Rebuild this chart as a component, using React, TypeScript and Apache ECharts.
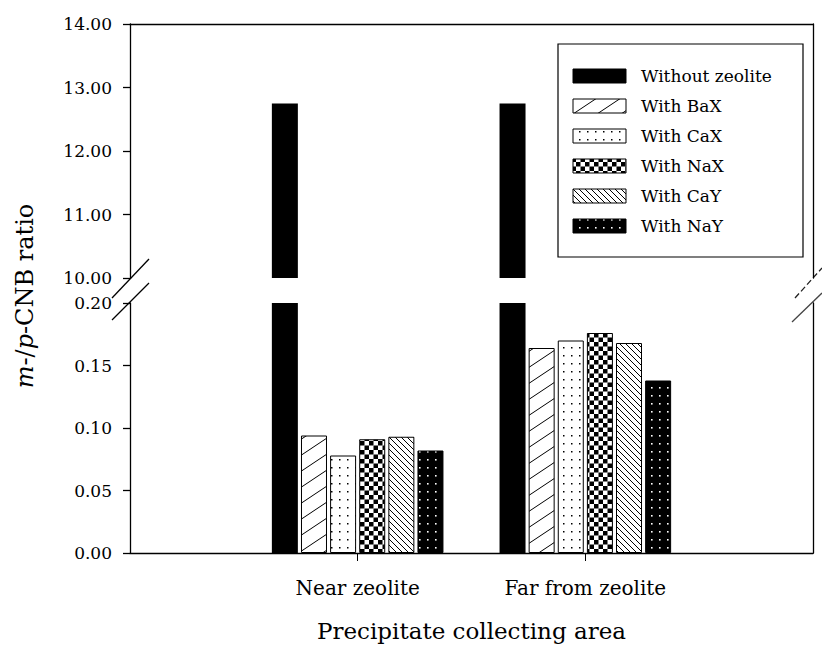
import { useEffect, useRef } from 'react';
import * as echarts from 'echarts';

// ---------- data ----------
const categories = ['', 'Near zeolite', 'Far from zeolite', ''];
const seriesNames = ['Without zeolite', 'With BaX', 'With CaX', 'With NaX', 'With CaY', 'With NaY'];
const withoutZeolite = ['-', 12.75, 12.75, '-'];
const withBaX = ['-', 0.094, 0.164, '-'];
const withCaX = ['-', 0.078, 0.170, '-'];
const withNaX = ['-', 0.091, 0.176, '-'];
const withCaY = ['-', 0.093, 0.168, '-'];
const withNaY = ['-', 0.082, 0.138, '-'];
const upperAxis = { min: 10, max: 14, interval: 1 };
const lowerAxis = { min: 0, max: 0.2, interval: 0.05 };
const xTitle = 'Precipitate collecting area';
const yTitle = '{i|m}-/{i|p}-CNB ratio';

const seriesValues = [withoutZeolite, withBaX, withCaX, withNaX, withCaY, withNaY];
const patternKinds = ['solid', 'slash', 'dots', 'checker', 'backslash', 'darkdots'];

const SERIF = '"DejaVu Serif", "Liberation Serif", serif';

function makePattern(kind: string): any {
  if (kind === 'solid') return '#000';
  const c = document.createElement('canvas');
  let w = 8, h = 8;
  if (kind === 'slash') { w = 24; h = 16; }
  if (kind === 'checker') { w = 9; h = 9; }
  if (kind === 'backslash') { w = 6; h = 6; }
  c.width = w; c.height = h;
  const ctx = c.getContext('2d')!;
  ctx.fillStyle = kind === 'darkdots' ? '#000' : '#fff';
  ctx.fillRect(0, 0, w, h);
  ctx.strokeStyle = '#000';
  ctx.fillStyle = '#000';
  ctx.lineWidth = 1;
  if (kind === 'slash') {
    for (let k = -1; k <= 1; k++) {
      ctx.beginPath();
      ctx.moveTo(-2, 16 + 16 * k + 4 / 3);
      ctx.lineTo(26, 16 * k - 4 / 3);
      ctx.stroke();
    }
  } else if (kind === 'backslash') {
    for (let k = -1; k <= 1; k++) {
      ctx.beginPath();
      ctx.moveTo(-1, -1 + 6 * k);
      ctx.lineTo(7, 7 + 6 * k);
      ctx.stroke();
    }
  } else if (kind === 'dots') {
    ctx.fillRect(3, 3, 1.5, 1.5);
  } else if (kind === 'checker') {
    ctx.fillRect(0, 0, 4.5, 4.5);
    ctx.fillRect(4.5, 4.5, 4.5, 4.5);
  } else if (kind === 'darkdots') {
    ctx.fillStyle = '#fff';
    ctx.fillRect(3, 3, 1.6, 1.6);
  }
  return { image: c, repeat: 'repeat', imageWidth: w, imageHeight: h };
}

export default function App() {
  const ref = useRef<HTMLDivElement>(null);
  useEffect(() => {
    if (!ref.current) return;
    const chart = echarts.init(ref.current, null, { renderer: 'svg' });
    const patterns = patternKinds.map(makePattern);

    const legendTop = 76;
    const legendStep = 30;
    const legendItems: any[] = [
      {
        type: 'rect',
        shape: { x: 558, y: 44, width: 245, height: 213 },
        style: { fill: '#fff', stroke: '#000', lineWidth: 1.2 },
      },
    ];
    seriesNames.forEach((name, i) => {
      const cy = legendTop + i * legendStep;
      legendItems.push({
        type: 'rect',
        shape: { x: 573, y: cy - 7, width: 53, height: 14 },
        style: { fill: patterns[i], stroke: '#000', lineWidth: 1 },
      });
      legendItems.push({
        type: 'text',
        x: 641,
        y: cy,
        style: {
          text: name,
          fontFamily: SERIF,
          fontSize: 17,
          fill: '#000',
          align: 'left',
          verticalAlign: 'middle',
        },
      });
    });

    const breakMarks: any[] = [
      { type: 'line', shape: { x1: 112, y1: 298, x2: 149, y2: 259 }, style: { stroke: '#000', lineWidth: 1.3 } },
      { type: 'line', shape: { x1: 112, y1: 320, x2: 149, y2: 283 }, style: { stroke: '#000', lineWidth: 1.3 } },
      { type: 'line', shape: { x1: 795, y1: 298, x2: 822, y2: 268 }, style: { stroke: '#222', lineWidth: 1.3, lineDash: [6, 3] } },
      { type: 'line', shape: { x1: 792, y1: 322, x2: 822, y2: 293 }, style: { stroke: '#444', lineWidth: 1.3 } },
    ];

    const series: any[] = [];
    seriesNames.forEach((name, i) => {
      const common = {
        type: 'bar',
        name,
        barWidth: 26,
        barGap: '12%',
        silent: true,
        itemStyle: {
          color: patterns[i],
          borderColor: '#000',
          borderWidth: i === 0 ? 0 : 1,
        },
      };
      series.push({
        ...common,
        xAxisIndex: 0,
        yAxisIndex: 0,
        data: i === 0 ? seriesValues[i] : categories.map(() => '-'),
      });
      series.push({
        ...common,
        xAxisIndex: 1,
        yAxisIndex: 2,
        data: seriesValues[i],
      });
    });

    const axisLineStyle = { color: '#000', width: 1.3 };
    const yLabel = {
      fontFamily: SERIF,
      fontSize: 17,
      color: '#000',
      margin: 18,
      formatter: (v: number) => v.toFixed(2),
    };

    chart.setOption({
      animation: false,
      backgroundColor: '#fff',
      grid: [
        { left: 130, right: 9, top: 24, height: 254 },
        { left: 130, right: 9, top: 303, height: 250 },
      ],
      xAxis: [
        {
          type: 'category',
          gridIndex: 0,
          position: 'top',
          data: categories,
          boundaryGap: false,
          axisLine: { show: true, onZero: false, lineStyle: axisLineStyle },
          axisTick: { show: false },
          axisLabel: { show: false },
          splitLine: { show: false },
        },
        {
          type: 'category',
          gridIndex: 1,
          position: 'bottom',
          data: categories,
          boundaryGap: false,
          axisLine: { show: true, onZero: false, lineStyle: axisLineStyle },
          axisTick: {
            show: true,
            length: 8,
            interval: (idx: number) => idx === 1 || idx === 2,
            lineStyle: { color: '#000', width: 1 },
          },
          axisLabel: {
            interval: (idx: number) => idx === 1 || idx === 2,
            fontFamily: SERIF,
            fontSize: 20,
            color: '#000',
            margin: 25,
          },
          splitLine: { show: false },
          name: xTitle,
          nameLocation: 'middle',
          nameGap: 66,
          nameTextStyle: { fontFamily: SERIF, fontSize: 23, color: '#000' },
        },
      ],
      yAxis: [
        {
          type: 'value',
          gridIndex: 0,
          position: 'left',
          min: upperAxis.min,
          max: upperAxis.max,
          interval: upperAxis.interval,
          axisLine: { show: true, lineStyle: axisLineStyle },
          axisTick: { show: true, length: 7, lineStyle: { color: '#000', width: 1.3 } },
          axisLabel: yLabel,
          splitLine: { show: false },
        },
        {
          type: 'value',
          gridIndex: 0,
          position: 'right',
          min: upperAxis.min,
          max: upperAxis.max,
          interval: upperAxis.interval,
          axisLine: { show: true, lineStyle: axisLineStyle },
          axisTick: { show: false },
          axisLabel: { show: false },
          splitLine: { show: false },
        },
        {
          type: 'value',
          gridIndex: 1,
          position: 'left',
          min: lowerAxis.min,
          max: lowerAxis.max,
          interval: lowerAxis.interval,
          axisLine: { show: true, lineStyle: axisLineStyle },
          axisTick: { show: true, length: 7, lineStyle: { color: '#000', width: 1.3 } },
          axisLabel: yLabel,
          splitLine: { show: false },
        },
        {
          type: 'value',
          gridIndex: 1,
          position: 'right',
          min: lowerAxis.min,
          max: lowerAxis.max,
          interval: lowerAxis.interval,
          axisLine: { show: true, lineStyle: axisLineStyle },
          axisTick: { show: false },
          axisLabel: { show: false },
          splitLine: { show: false },
        },
      ],
      series,
      graphic: [
        ...breakMarks,
        ...legendItems,
        {
          type: 'text',
          x: 25,
          y: 296,
          rotation: Math.PI / 2,
          style: {
            text: yTitle,
            fontFamily: SERIF,
            fontSize: 24,
            fill: '#000',
            align: 'center',
            verticalAlign: 'middle',
            rich: {
              i: { fontFamily: SERIF, fontSize: 24, fontStyle: 'italic', fill: '#000' },
            },
          },
        },
      ],
    });
    return () => chart.dispose();
  }, []);
  return (
    <div
      ref={ref}
      style={{ position: 'fixed', left: 0, top: 0, width: 822, height: 652, background: '#fff' }}
    />
  );
}
